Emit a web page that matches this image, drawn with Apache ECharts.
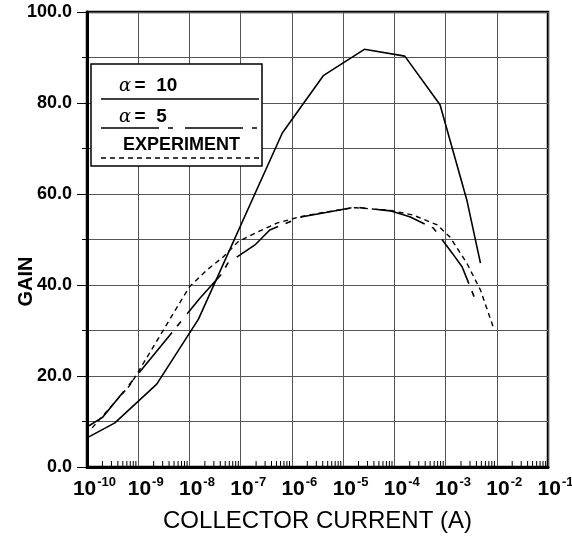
<!DOCTYPE html>
<html>
<head>
<meta charset="utf-8">
<script src="https://cdn.jsdelivr.net/npm/echarts@6/dist/echarts.min.js"></script>
<style>
html,body{margin:0;padding:0;background:#fff;}
#chart{width:572px;height:545px;}
</style>
</head>
<body>
<div id="chart"></div>
<script>
// Collector current (A) and gain
const alpha10Current = [1e-10, 3.5e-10, 2.3e-9, 1.5e-8, 6.5e-7, 4.1e-6, 2.6e-5, 1.6e-4, 7.8e-4, 2.6e-3, 4.8e-3];
const alpha10Gain    = [6.4, 9.7, 18.2, 32.5, 73.4, 86, 91.8, 90.3, 79.6, 58.7, 44.8];

const alpha5Current = [1e-10, 2.0e-10, 8.1e-9, 1.6e-8, 4.4e-8, 5.6e-8, 1.9e-7, 3.7e-7, 1.6e-6, 4.9e-6, 1.7e-5, 8.3e-5, 2.0e-4, 5.8e-4, 1.35e-3, 2.1e-3, 4.2e-3];
const alpha5Gain    = [8.8, 10.9, 33, 37.1, 42.6, 44.8, 48.8, 52.1, 55, 56, 57.1, 56.3, 55, 52.5, 47, 44, 35.6];

const expCurrent = [1.26e-10, 6.9e-10, 1e-9, 7.6e-9, 1.0e-8, 2.2e-8, 4.6e-8, 8.9e-8, 2.1e-7, 5.1e-7, 1.45e-6, 5e-6, 1.7e-5, 8.3e-5, 2.3e-4, 6.9e-4, 1.23e-3, 2.6e-3, 4.8e-3, 8.5e-3];
const expGain    = [8.6, 18, 20.9, 37.4, 39.6, 43.3, 46.2, 49.5, 51.6, 53.6, 55, 56.1, 57.0, 56.4, 55.4, 53.2, 50.5, 44.8, 38.9, 30.8];

const yTickLabels = ['0.0', '20.0', '40.0', '60.0', '80.0', '100.0'];
const xDecadeExponents = [-10, -9, -8, -7, -6, -5, -4, -3, -2, -1];
const minorMantissas = [2, 3, 4, 5, 6, 7, 8, 9];

const legendLabels = ['α = 10', 'α = 5', 'EXPERIMENT'];

function pairs(xs, ys) { return xs.map((x, i) => [x, ys[i]]); }

// minor tick positions on the log axis (2..9 within each decade)
const minorTicks = [];
xDecadeExponents.slice(0, -1).forEach(e => {
  minorMantissas.forEach(m => minorTicks.push([m * Math.pow(10, e), 0]));
});

const DASH_A5 = [52, 8, 6, 10];
const DASH_EXP = [5, 4];

const chart = echarts.init(document.getElementById('chart'), null, {renderer: 'canvas'});
const FONT = 'Liberation Sans, Arial, sans-serif';

const option = {
  animation: false,
  backgroundColor: '#fff',
  grid: {
    left: 87, right: 24, top: 12, bottom: 78,
    containLabel: false, outerBoundsMode: 'none',
    show: true, borderColor: '#000', borderWidth: 2.5, backgroundColor: 'transparent'
  },
  xAxis: {
    type: 'log', logBase: 10, min: 1e-10, max: 1e-1,
    name: 'COLLECTOR CURRENT (A)', nameLocation: 'middle', nameGap: 42, nameMoveOverlap: false,
    nameTextStyle: {fontFamily: FONT, fontSize: 24, color: '#000'},
    axisLine: {lineStyle: {color: '#000', width: 3}},
    axisTick: {show: false},
    minorTick: {show: false},
    splitLine: {show: true, lineStyle: {color: '#555', width: 1}},
    axisLabel: {
      margin: 9,
      padding: [0, 0, 0, 15],
      fontFamily: FONT, fontSize: 21, fontWeight: 'bold', color: '#000',
      formatter: v => '{b|10}{s|' + Math.round(Math.log10(v)) + '}',
      rich: {
        b: {fontFamily: FONT, fontSize: 21, fontWeight: 'bold', color: '#000', lineHeight: 24, verticalAlign: 'bottom'},
        s: {fontFamily: FONT, fontSize: 13, fontWeight: 'bold', color: '#000', verticalAlign: 'top', lineHeight: 14, padding: [0, 0, 15, 1]}
      }
    }
  },
  yAxis: {
    type: 'value', min: 0, max: 100, interval: 20,
    name: 'GAIN', nameLocation: 'middle', nameGap: 51, nameRotate: 90, nameMoveOverlap: false,
    nameTextStyle: {fontFamily: FONT, fontSize: 20, fontWeight: 'bold', color: '#000', padding: [0, 84, 0, 0]},
    axisLine: {show: true, lineStyle: {color: '#000', width: 3}},
    axisTick: {show: true, length: 10, lineStyle: {color: '#000', width: 1}},
    minorTick: {show: true, splitNumber: 2, length: 5, lineStyle: {color: '#000', width: 1}},
    splitLine: {show: true, lineStyle: {color: '#555', width: 1}},
    minorSplitLine: {show: true, lineStyle: {color: '#555', width: 1}},
    axisLabel: {
      margin: 15,
      fontFamily: FONT, fontSize: 18, fontWeight: 'bold', color: '#000',
      formatter: v => yTickLabels[Math.round(v / 20)]
    }
  },
  series: [
    {
      name: legendLabels[0], type: 'line', data: pairs(alpha10Current, alpha10Gain),
      symbol: 'none', lineStyle: {color: '#000', width: 1.6}, z: 3
    },
    {
      name: legendLabels[1], type: 'line', data: pairs(alpha5Current, alpha5Gain),
      symbol: 'none', lineStyle: {color: '#000', width: 1.6, type: DASH_A5}, z: 3
    },
    {
      name: legendLabels[2], type: 'line', data: pairs(expCurrent, expGain),
      symbol: 'none', lineStyle: {color: '#000', width: 1.4, type: DASH_EXP}, z: 3
    },
    {
      type: 'custom', data: minorTicks, silent: true, clip: false, z: 5,
      encode: {x: 0, y: 1},
      renderItem: (params, api) => {
        const p = api.coord([api.value(0), api.value(1)]);
        return {type: 'line', shape: {x1: p[0], y1: p[1], x2: p[0], y2: p[1] - 6},
                style: {stroke: '#000', lineWidth: 1}};
      }
    }
  ],
  graphic: [
    {type: 'rect', z: 100, shape: {x: 91, y: 64, width: 171, height: 102},
     style: {fill: '#fff', stroke: '#000', lineWidth: 1.5}},
    {type: 'text', z: 101, x: 119, y: 86,
     style: {text: '{a|α} {b|=  10}', verticalAlign: 'middle',
       rich: {a: {fontFamily: 'DejaVu Serif, serif', fontStyle: 'italic', fontSize: 18, fill: '#000'},
              b: {fontFamily: FONT, fontSize: 19, fontWeight: 'bold', fill: '#000'}}}},
    {type: 'line', z: 101, shape: {x1: 101, y1: 99, x2: 259, y2: 99}, style: {stroke: '#000', lineWidth: 1.6}},
    {type: 'text', z: 101, x: 119, y: 117,
     style: {text: '{a|α} {b|=  5}', verticalAlign: 'middle',
       rich: {a: {fontFamily: 'DejaVu Serif, serif', fontStyle: 'italic', fontSize: 18, fill: '#000'},
              b: {fontFamily: FONT, fontSize: 19, fontWeight: 'bold', fill: '#000'}}}},
    {type: 'line', z: 101, shape: {x1: 101, y1: 128, x2: 259, y2: 128}, style: {stroke: '#000', lineWidth: 1.6, lineDash: [58, 9, 5, 12]}},
    {type: 'text', z: 101, x: 123, y: 145,
     style: {text: legendLabels[2], verticalAlign: 'middle', fontFamily: FONT, fontSize: 18, fontWeight: 'bold', fill: '#000'}},
    {type: 'line', z: 101, shape: {x1: 101, y1: 158, x2: 259, y2: 158}, style: {stroke: '#000', lineWidth: 1.4, lineDash: DASH_EXP}}
  ]
};
chart.setOption(option);
</script>
</body>
</html>
